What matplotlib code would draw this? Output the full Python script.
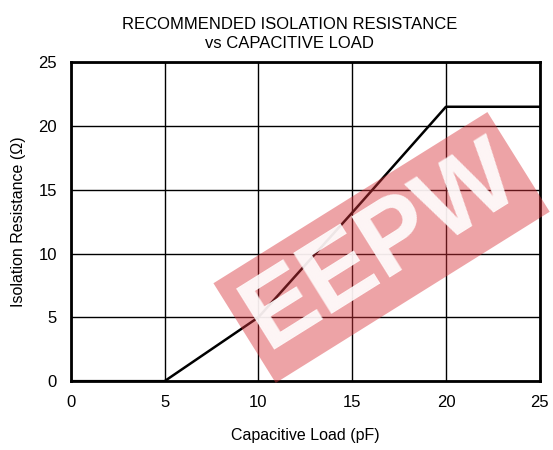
import matplotlib
matplotlib.use("Agg")
import matplotlib.pyplot as plt

# data
cap_pf = [0, 5, 10, 15, 20, 25]
r_iso = [0, 0, 5, 13.2, 21.5, 21.5]
ticks = [0, 5, 10, 15, 20, 25]

plt.rcParams["font.family"] = ["Liberation Sans", "DejaVu Sans"]

fig = plt.figure(figsize=(5.53, 4.5), dpi=100)
ax = fig.add_axes([0.128, 0.153, 0.848, 0.709])

ax.plot(cap_pf, r_iso, color="black", lw=1.8, zorder=3)

ax.set_xlim(0, 25)
ax.set_ylim(0, 25)
ax.set_xticks(ticks)
ax.set_yticks(ticks)
ax.grid(True, color="black", lw=1.0)
ax.tick_params(length=0, labelsize=12, pad=10)
for s in ax.spines.values():
    s.set_linewidth(2)

ax.set_xlabel("Capacitive Load (pF)", fontsize=11.5, labelpad=13)
ax.set_ylabel("Isolation Resistance (Ω)", fontsize=11.5, labelpad=9)

fig.text(0.523, 0.962, "RECOMMENDED ISOLATION RESISTANCE\nvs CAPACITIVE LOAD",
         ha="center", va="top", fontsize=12, linespacing=1.3)

# watermark
fig.text(0.69, 0.45, "EEPW", color="white", fontsize=74, fontweight="bold",
         rotation=32, ha="center", va="center", alpha=0.9,
         bbox=dict(boxstyle="square,pad=0.1", fc="#d9333a", ec="none", alpha=0.45))

fig.savefig("out.png", dpi=100)
